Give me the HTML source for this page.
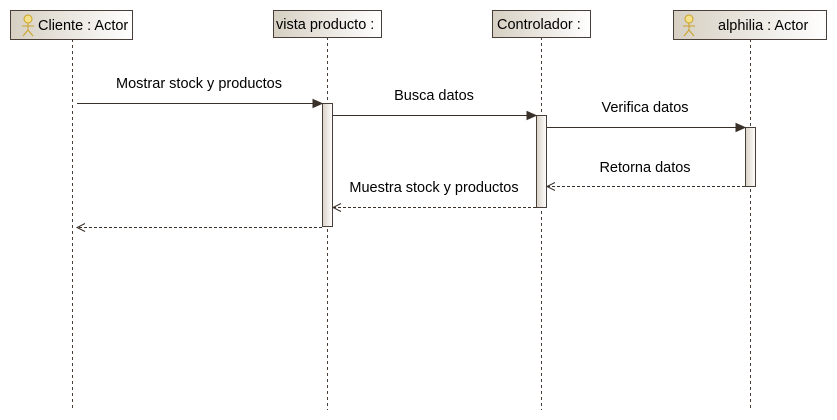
<!DOCTYPE html>
<html><head><meta charset="utf-8"><style>
html,body{margin:0;padding:0;background:#fff;}
svg{display:block;}
text{font-family:"Liberation Sans",Arial,sans-serif;font-size:14.5px;fill:#000;}
</style></head><body>
<svg width="837" height="420" viewBox="0 0 837 420" xmlns="http://www.w3.org/2000/svg">
<defs>
<linearGradient id="g" x1="0" y1="0" x2="1" y2="0">
<stop offset="0" stop-color="#d6cfc2"/><stop offset="1" stop-color="#ffffff"/>
</linearGradient>
<linearGradient id="a" x1="0" y1="0" x2="1" y2="0">
<stop offset="0" stop-color="#d9d2c6"/><stop offset="1" stop-color="#ffffff"/>
</linearGradient>
</defs>
<g stroke="#4a3f38" stroke-width="1" stroke-dasharray="3,3" fill="none">
<line x1="72.5" y1="39" x2="72.5" y2="410"/>
<line x1="327.5" y1="37" x2="327.5" y2="410"/>
<line x1="541.5" y1="37" x2="541.5" y2="410"/>
<line x1="750.5" y1="39" x2="750.5" y2="410"/>
</g>
<g stroke="#4a3f38" stroke-width="1" fill="url(#g)">
<rect x="10.5" y="10.5" width="122" height="29"/>
<rect x="273.5" y="10.5" width="108" height="27"/>
<rect x="492.5" y="10.5" width="98" height="27"/>
<rect x="673.5" y="10.5" width="153" height="29"/>
</g>
<g stroke="#c9a227" stroke-width="1" fill="none">
<circle cx="28" cy="19" r="4" fill="#f5e08a"/>
<line x1="28" y1="23" x2="28" y2="30"/><line x1="22" y1="26" x2="34" y2="26"/>
<line x1="28" y1="30" x2="23" y2="36"/><line x1="28" y1="30" x2="33" y2="36"/>
<circle cx="689" cy="19" r="4" fill="#f5e08a"/>
<line x1="689" y1="23" x2="689" y2="30"/><line x1="683" y1="26" x2="695" y2="26"/>
<line x1="689" y1="30" x2="684" y2="36"/><line x1="689" y1="30" x2="694" y2="36"/>
</g>
<text x="38" y="30">Cliente : Actor</text>
<text x="276" y="29">vista producto :</text>
<text x="497" y="29">Controlador :</text>
<text x="718" y="30">alphilia : Actor</text>
<g stroke="#4a3f38" stroke-width="1" fill="url(#a)">
<rect x="322.5" y="103.5" width="10" height="123"/>
<rect x="536.5" y="115.5" width="10" height="92"/>
<rect x="745.5" y="127.5" width="10" height="59"/>
</g>
<g stroke="#3a302a" stroke-width="1" fill="#3a302a">
<line x1="77" y1="103.5" x2="316" y2="103.5"/>
<polygon points="322,103.5 313,99.5 313,107.5"/>
<line x1="333" y1="115.5" x2="530" y2="115.5"/>
<polygon points="536,115.5 527,111.5 527,119.5"/>
<line x1="547" y1="127.5" x2="739" y2="127.5"/>
<polygon points="745,127.5 736,123.5 736,131.5"/>
</g>
<g stroke="#3a302a" stroke-width="1" fill="none">
<line x1="745" y1="186.5" x2="547" y2="186.5" stroke-dasharray="3,2"/>
<polyline points="555,182.5 547,186.5 555,190.5"/>
<line x1="536" y1="207.5" x2="333" y2="207.5" stroke-dasharray="3,2"/>
<polyline points="341,203.5 333,207.5 341,211.5"/>
<line x1="322" y1="227.5" x2="77" y2="227.5" stroke-dasharray="3,2"/>
<polyline points="85,223.5 77,227.5 85,231.5"/>
</g>
<text x="199" y="88" text-anchor="middle">Mostrar stock y productos</text>
<text x="434" y="100" text-anchor="middle">Busca datos</text>
<text x="645" y="112" text-anchor="middle">Verifica datos</text>
<text x="645" y="172" text-anchor="middle">Retorna datos</text>
<text x="434" y="192" text-anchor="middle">Muestra stock y productos</text>
</svg>
</body></html>
